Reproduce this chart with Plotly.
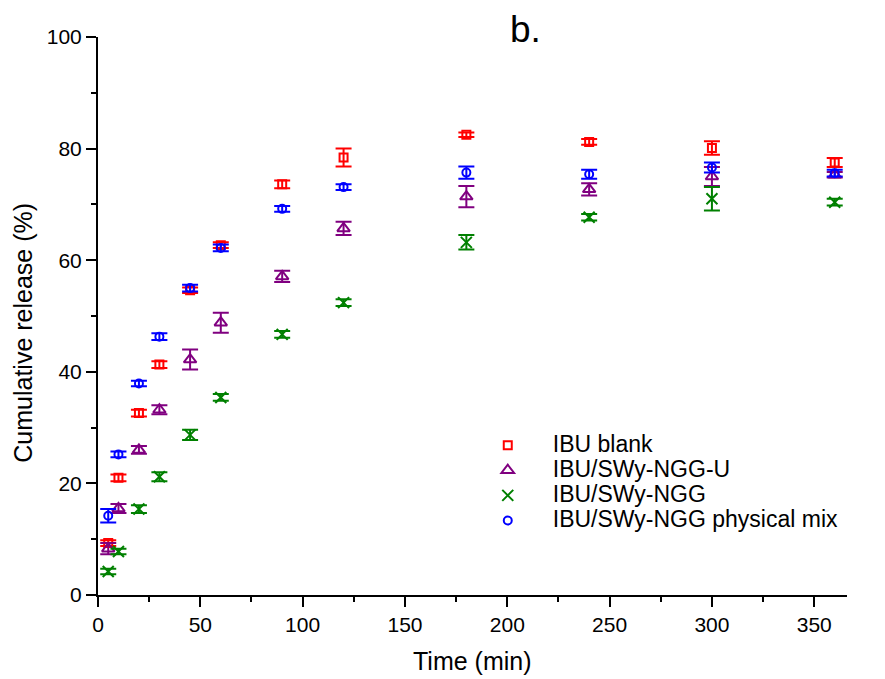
import plotly.graph_objects as go

# ---- data ----
time_min = [5, 10, 20, 30, 45, 60, 90, 120, 180, 240, 300, 360]

series_names = ["IBU blank", "IBU/SWy-NGG-U", "IBU/SWy-NGG", "IBU/SWy-NGG physical mix"]

ibu_blank = [9.3, 21.0, 32.6, 41.3, 54.6, 62.7, 73.6, 78.4, 82.5, 81.2, 80.1, 77.5]
ibu_blank_err = [0.5, 0.6, 0.6, 0.6, 0.5, 0.5, 0.7, 1.6, 0.4, 0.5, 1.2, 0.8]

ibu_ngg_u = [8.3, 15.5, 26.0, 33.2, 42.2, 48.8, 57.1, 65.7, 71.4, 72.7, 75.0, 75.3]
ibu_ngg_u_err = [1.0, 0.8, 0.7, 0.8, 1.8, 1.8, 1.0, 1.2, 1.9, 1.1, 1.7, 0.5]

ibu_ngg = [4.2, 7.8, 15.4, 21.2, 28.7, 35.4, 46.7, 52.4, 63.2, 67.7, 71.0, 70.4]
ibu_ngg_err = [0.5, 0.5, 0.7, 0.8, 0.9, 0.6, 0.6, 0.6, 1.3, 0.6, 2.1, 0.6]

ibu_mix = [14.2, 25.2, 37.9, 46.3, 55.0, 62.2, 69.2, 73.1, 75.7, 75.4, 76.6, 75.6]
ibu_mix_err = [1.2, 0.5, 0.5, 0.6, 0.6, 0.6, 0.5, 0.5, 1.1, 0.8, 0.9, 0.6]

x_ticks = [0, 50, 100, 150, 200, 250, 300, 350]
y_ticks = [0, 20, 40, 60, 80, 100]

FONT = "Arial, Liberation Sans, sans-serif"

styles = [
    dict(color="#FF0000", symbol="square-open", size=8),
    dict(color="#800080", symbol="triangle-up-open", size=11),
    dict(color="#008000", symbol="x-thin-open", size=11),
    dict(color="#0000FF", symbol="circle-open", size=8),
]
values = [ibu_blank, ibu_ngg_u, ibu_ngg, ibu_mix]
errors = [ibu_blank_err, ibu_ngg_u_err, ibu_ngg_err, ibu_mix_err]

fig = go.Figure()
for name, vals, errs, st in zip(series_names, values, errors, styles):
    fig.add_trace(go.Scatter(
        x=time_min, y=vals, mode="markers",
        name=f"<span style='font-size:23px'>{name}</span>",
        marker=dict(symbol=st["symbol"], size=st["size"], color=st["color"],
                    line=dict(color=st["color"], width=2)),
        error_y=dict(type="data", array=errs, visible=True, color=st["color"],
                     thickness=2, width=8),
    ))

axis_common = dict(
    showline=True, linecolor="black", linewidth=2, mirror=False,
    ticks="outside", ticklen=10, tickwidth=2, tickcolor="black",
    showgrid=False, zeroline=False,
    tickfont=dict(family=FONT, size=21, color="black"),
)

fig.update_xaxes(range=[0, 366], tickvals=x_ticks,
                 minor=dict(dtick=25, tick0=0, ticks="outside", ticklen=5,
                            tickwidth=2, tickcolor="black", showgrid=False),
                 **axis_common)
fig.update_yaxes(range=[0, 100], tickvals=y_ticks,
                 minor=dict(dtick=10, tick0=0, ticks="outside", ticklen=5,
                            tickwidth=2, tickcolor="black", showgrid=False),
                 **axis_common)

fig.update_layout(
    width=877, height=671,
    margin=dict(l=90, r=38, t=29, b=84),
    paper_bgcolor="white", plot_bgcolor="white",
    font=dict(family=FONT, color="black"),
    showlegend=True,
    legend=dict(x=0.487, y=0.300, xanchor="left", yanchor="top",
                bgcolor="rgba(0,0,0,0)", font=dict(family=FONT, size=17),
                itemwidth=80),
    annotations=[
        dict(text="b.", x=(525 - 98) / 749, y=1 + (37 - 30) / 558,
             xref="paper", yref="paper", xanchor="center", yanchor="middle",
             showarrow=False, font=dict(family=FONT, size=37, color="black")),
        dict(text="Time (min)", x=0.5, y=-(661 - 595) / 558, xref="paper", yref="paper",
             xanchor="center", yanchor="middle", showarrow=False,
             font=dict(family=FONT, size=25, color="black")),
        dict(text="Cumulative release (%)", x=(23 - 98) / 749, y=0.47,
             xref="paper", yref="paper",
             xanchor="center", yanchor="middle", textangle=-90, showarrow=False,
             font=dict(family=FONT, size=25, color="black")),
    ],
)

fig.write_html("out.html")
